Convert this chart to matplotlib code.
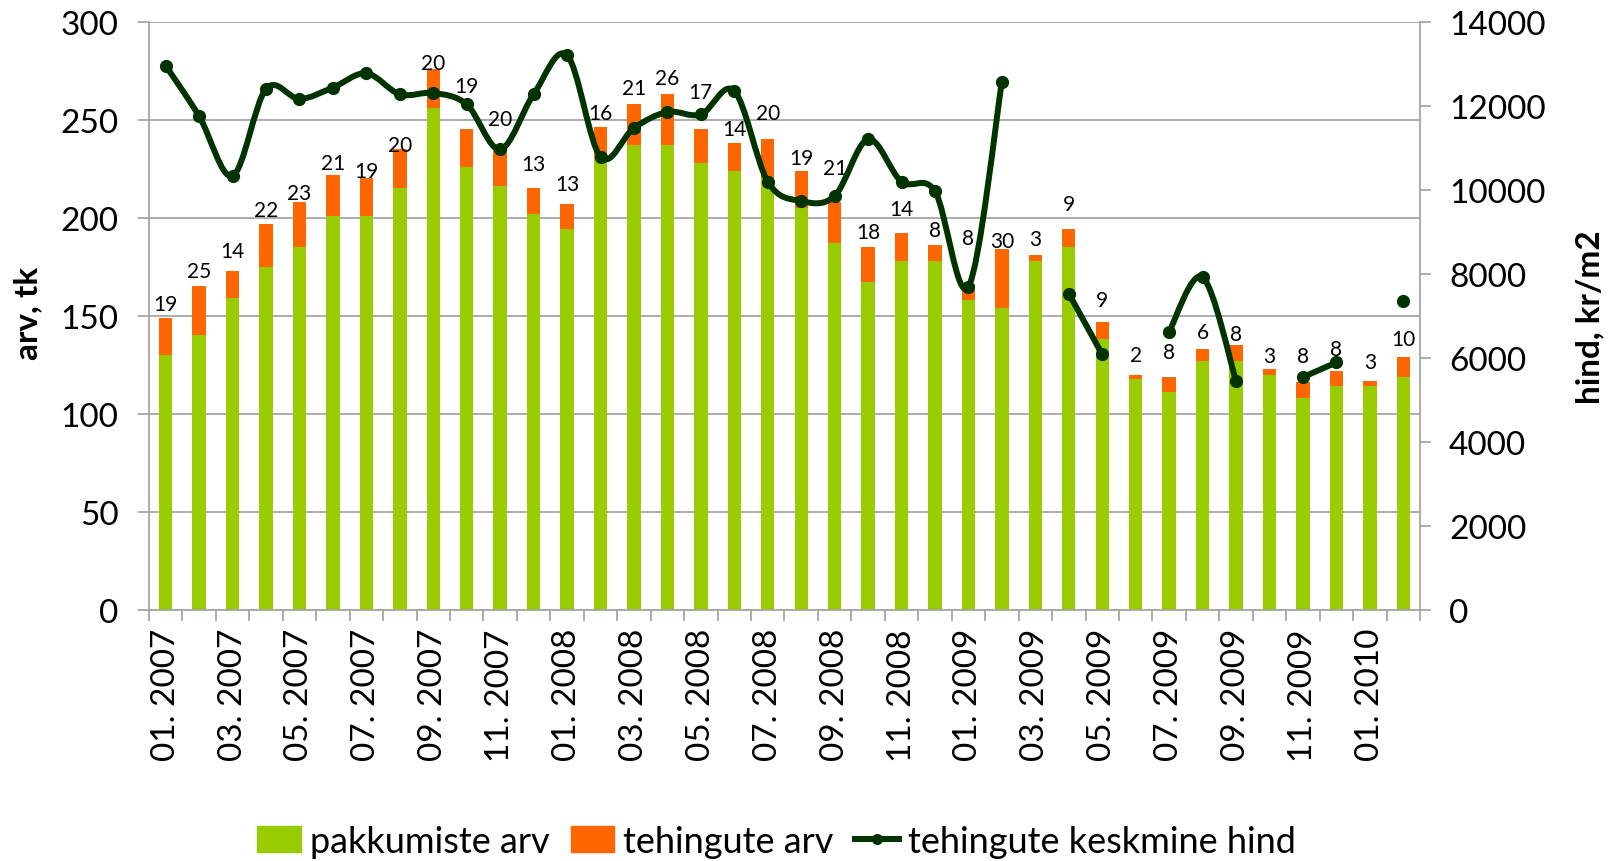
import numpy as np
import matplotlib
matplotlib.use("Agg")
import matplotlib.pyplot as plt
from matplotlib.path import Path
from matplotlib.patches import PathPatch, Patch
from matplotlib.lines import Line2D

plt.rcParams["font.family"] = ["Lato", "DejaVu Sans"]

months = ["01. 2007", "02. 2007", "03. 2007", "04. 2007", "05. 2007", "06. 2007",
          "07. 2007", "08. 2007", "09. 2007", "10. 2007", "11. 2007", "12. 2007",
          "01. 2008", "02. 2008", "03. 2008", "04. 2008", "05. 2008", "06. 2008",
          "07. 2008", "08. 2008", "09. 2008", "10. 2008", "11. 2008", "12. 2008",
          "01. 2009", "02. 2009", "03. 2009", "04. 2009", "05. 2009", "06. 2009",
          "07. 2009", "08. 2009", "09. 2009", "10. 2009", "11. 2009", "12. 2009",
          "01. 2010", "02. 2010"]
offers = [130, 140, 159, 175, 185, 201, 201, 215, 256, 226, 216, 202, 194, 230, 237,
          237, 228, 224, 220, 205, 187, 167, 178, 178, 158, 154, 178, 185, 138, 118,
          111, 127, 127, 120, 108, 114, 114, 119]
deals = [19, 25, 14, 22, 23, 21, 19, 20, 20, 19, 20, 13, 13, 16, 21, 26, 17, 14, 20,
         19, 21, 18, 14, 8, 8, 30, 3, 9, 9, 2, 8, 6, 8, 3, 8, 8, 3, 10]
nan = np.nan
price = [12950, 11750, 10330, 12400, 12160, 12430, 12770, 12270, 12300, 12030, 10960,
         12270, 13200, 10780, 11470, 11850, 11790, 12350, 10190, 9730, 9850, 11200,
         10190, 9960, 7690, 12570, nan, 7530, 6080, nan, 6620, 7920, 5450, nan, 5540,
         5890, nan, 7350]

# label placement above the bar tops (pixels), as in the original
label_gap = [14, 15, 20, 14, 9, 12, 7, 4, 6, 43, 28, 24, 20, 14, 16, 16, 37, 14, 26, 13,
             34, 15, 24, 15, 46, 8, 16, 25, 22, 20, 25, 17, 11, 13, 26, 22, 19, 18]

GREEN, ORANGE, DARK = "#99CC00", "#FF6600", "#003300"
GRID = "#A6A6A6"


def smooth_path(xs, ys):
    # Excel-style smoothed line through the points of one run
    pts = np.column_stack([xs, ys]).astype(float)
    verts, codes = [pts[0]], [Path.MOVETO]
    n = len(pts)
    for i in range(n - 1):
        p0 = pts[i - 1] if i > 0 else pts[i]
        p1, p2 = pts[i], pts[i + 1]
        p3 = pts[i + 2] if i + 2 < n else pts[i + 1]
        verts += [p1 + (p2 - p0) / 6, p2 - (p3 - p1) / 6, p2]
        codes += [Path.CURVE4] * 3
    return Path(verts, codes)


fig = plt.figure(figsize=(16.14, 8.62), dpi=100)
ax = fig.add_axes([0.0923, 0.2912, 0.7875, 0.6826])
x = np.arange(len(months))
ax.bar(x, offers, width=0.4, color=GREEN, zorder=2)
totals = np.array(offers) + np.array(deals)
ax.bar(x, deals, width=0.4, bottom=offers, color=ORANGE, zorder=2)
for xi, t, d, g in zip(x, totals, deals, label_gap):
    ax.annotate(str(d), (xi, t), xytext=(0, g * 0.72), textcoords="offset points",
                ha="center", va="center", fontsize=15, zorder=3)

ax.set_xlim(-0.5, len(months) - 0.5)
ax.set_ylim(0, 300)
ax.set_yticks(range(0, 301, 50))
ax.grid(axis="y", color=GRID, lw=1.3, zorder=0)
ax.set_axisbelow(True)
ax.set_xticks(np.arange(-0.5, len(months), 1))
ax.set_xticklabels([])
ax.set_xticks(x[::2], minor=True)
ax.set_xticklabels(months[::2], minor=True, rotation=90, fontsize=24)
ax.tick_params(axis="x", which="major", length=8, color=GRID, width=1.3)
ax.tick_params(axis="x", which="minor", length=0, pad=13)
ax.tick_params(axis="y", labelsize=24, length=8, color=GRID, width=1.3, pad=14)
for s in ("top", "right"):
    ax.spines[s].set_visible(False)
for s in ("left", "bottom"):
    ax.spines[s].set_color(GRID)
    ax.spines[s].set_linewidth(1.3)

ax2 = ax.twinx()
ax2.set_ylim(0, 14000)
ax2.set_yticks(range(0, 14001, 2000))
ax2.tick_params(axis="y", labelsize=24, length=8, color=GRID, width=1.3, pad=13)
for s in ("top", "left", "bottom"):
    ax2.spines[s].set_visible(False)
ax2.spines["right"].set_color(GRID)
ax2.spines["right"].set_linewidth(1.3)

fig.text(0.0173, 0.636, "arv, tk", rotation=90, ha="center", va="center",
         fontsize=24, fontweight="bold")
fig.text(0.985, 0.632, "hind, kr/m2", rotation=90, ha="center", va="center",
         fontsize=24, fontweight="bold")

p = np.array(price, dtype=float)
run = []
for i in range(len(p) + 1):
    if i < len(p) and not np.isnan(p[i]):
        run.append(i)
        continue
    if len(run) > 1:
        ax2.add_patch(PathPatch(smooth_path(x[run], p[run]), fill=False,
                                edgecolor=DARK, lw=4.3, capstyle="round",
                                joinstyle="round", zorder=4))
    run = []
ax2.plot(x, p, ls="none", marker="o", ms=8.5, color=DARK, zorder=5)

handles = [Patch(color=GREEN), Patch(color=ORANGE),
           Line2D([], [], color=DARK, lw=4.3, marker="o", ms=7)]
fig.legend(handles, ["pakkumiste arv", "tehingute arv", "tehingute keskmine hind"],
           loc="center", bbox_to_anchor=(0.481, 0.023), ncol=3, frameon=False,
           fontsize=26, handlelength=1.2, handleheight=0.75, handletextpad=0.25,
           columnspacing=0.6, borderpad=0)

fig.savefig("out.png", dpi=100)
